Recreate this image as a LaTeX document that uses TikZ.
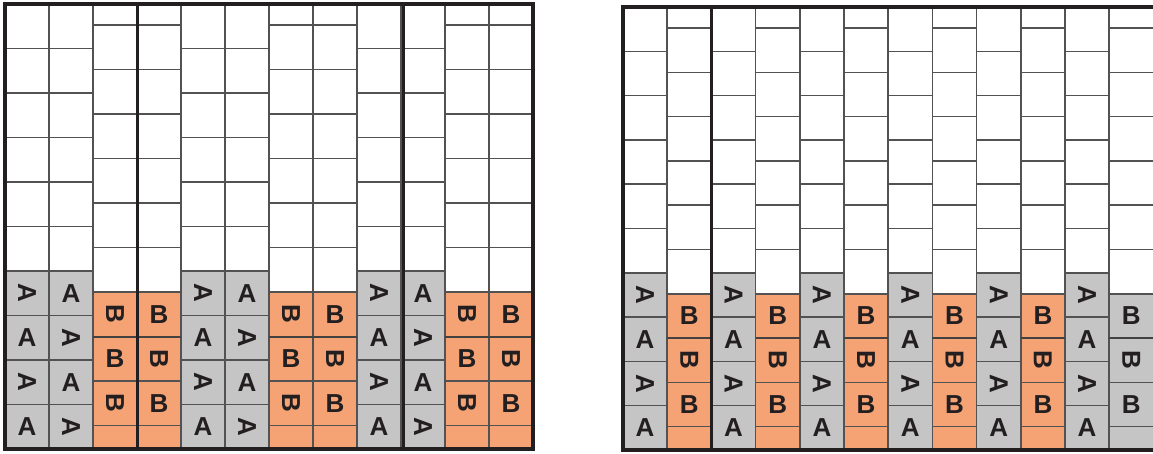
\documentclass[tikz,border=0pt]{standalone}
\usepackage{fontspec}
\setmainfont{Liberation Sans}
\usetikzlibrary{calc}
\definecolor{pvgray}{RGB}{197,197,197}
\definecolor{pvorange}{RGB}{245,162,116}
\definecolor{pvline}{RGB}{82,82,82}
\definecolor{pvink}{RGB}{35,31,32}
\tikzset{
  pvcell/.style={draw=pvline, line width=1.5pt},
  pvframe/.style={draw=pvink, line width=4.5pt},
  pvseam/.style={draw=pvink, line width=3pt},
  pvjoint/.style={draw=pvink!85, line width=2pt},
  pvlbl/.style={font=\fontsize{26}{26}\selectfont\bfseries, text=pvink, inner sep=0pt},
}
\begin{document}
\begin{tikzpicture}[x=1pt, y=-1pt]
  \useasboundingbox (0,0) rectangle (1153,453);

  % left floor: courses laid in pairs
  \begin{scope}
    \clip (5,4) rectangle (533,449);
    \foreach \c in {0,...,11} {
      \pgfmathtruncatemacro\pair{mod(floor(\c/2),2)}
      \pgfmathsetmacro\xa{5+44*\c}
      \pgfmathsetmacro\off{21*\pair}
      \ifnum\pair=0 \def\tint{pvgray}\else\def\tint{pvorange}\fi
      \foreach \j in {-1,...,9} {
        \pgfmathsetmacro\ya{4+\off+44.5*\j}
        \ifnum\j<6 \def\tone{white}\else\let\tone\tint\fi
        \draw[pvcell, fill=\tone] (\xa,\ya) rectangle ++(44,44.5);
      }
    }
  \end{scope}
  \foreach \xa in {93,269,445}
    \draw[pvjoint] (\xa,336.5) -- ++(88,0);
  \foreach \c in {0,...,11} {
    \pgfmathtruncatemacro\pair{mod(floor(\c/2),2)}
    \pgfmathtruncatemacro\last{4-\pair}
    \pgfmathsetmacro\xc{27+44*\c}
    \pgfmathsetmacro\off{21*\pair}
    \ifnum\pair=0 \def\glyph{A}\else\def\glyph{B}\fi
    \foreach \r in {1,...,\last} {
      \pgfmathsetmacro\yc{4+\off+44.5*(\r+5)+22.25}
      \pgfmathtruncatemacro\turn{mod(\r+\c,2)}
      \node[pvlbl, rotate=-90*\turn] (L-\c-\r) at (\xc,\yc) {\glyph};
    }
  }
  \draw[pvframe] (5,4) rectangle (533,449);
  \draw[pvseam] (137,4) -- (137,449);
  \draw[pvseam] (403,4) -- (403,449);

  % right floor: single courses
  \begin{scope}
    \clip (623,7) rectangle (1153.4,450);
    \foreach \c in {0,...,11} {
      \pgfmathtruncatemacro\odd{mod(\c,2)}
      \pgfmathsetmacro\xa{623+44.2*\c}
      \pgfmathsetmacro\off{21*\odd}
      \ifnum\odd=0 \def\tint{pvgray}\else\def\tint{pvorange}\fi
      \ifnum\c=11 \def\tint{pvgray}\fi
      \foreach \j in {-1,...,9} {
        \pgfmathsetmacro\ya{7+\off+44.3*\j}
        \ifnum\j<6 \def\tone{white}\else\let\tone\tint\fi
        \draw[pvcell, fill=\tone] (\xa,\ya) rectangle ++(44.2,44.3);
      }
    }
  \end{scope}
  \foreach \c in {1,3,...,11}
    \draw[pvjoint] (623+44.2*\c,338.1) -- ++(44.2,0);
  \foreach \c in {0,...,11} {
    \pgfmathtruncatemacro\odd{mod(\c,2)}
    \pgfmathtruncatemacro\last{4-\odd}
    \pgfmathsetmacro\xc{645.1+44.2*\c}
    \pgfmathsetmacro\off{21*\odd}
    \ifnum\odd=0 \def\glyph{A}\else\def\glyph{B}\fi
    \foreach \r in {1,...,\last} {
      \pgfmathsetmacro\yc{7+\off+44.3*(\r+5)+22.15}
      \pgfmathtruncatemacro\turn{mod(\r+\c,2)}
      \node[pvlbl, rotate=-90*\turn] (R-\c-\r) at (\xc,\yc) {\glyph};
    }
  }
  \draw[pvframe] (1153.4,7) -- (623,7) -- (623,450) -- (1153.4,450);
  \draw[pvseam] (711.4,7) -- (711.4,450);
\end{tikzpicture}
\end{document}
